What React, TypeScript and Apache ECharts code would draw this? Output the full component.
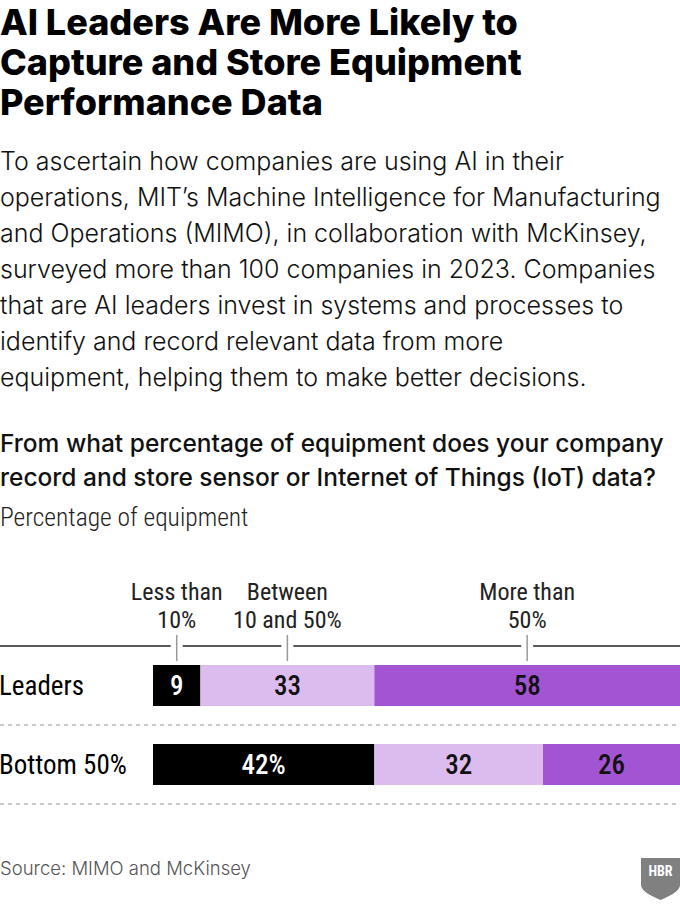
import React, { useEffect, useRef } from "react";
import * as echarts from "echarts";

const categories = ["Leaders", "Bottom 50%"];
const segmentNames = ["Less than\n10%", "Between\n10 and 50%", "More than\n50%"];
const lessThan10 = [9, 42];
const between10and50 = [33, 32];
const moreThan50 = [58, 26];
const seriesValues = [lessThan10, between10and50, moreThan50];
const valueSuffix = [["", "%"], ["", ""], ["", ""]];
const segmentColors = ["#000000", "#dcbbee", "#a354d3"];
const labelColors = ["#ffffff", "#111111", "#111111"];

const titleLines = [
  "AI Leaders Are More Likely to",
  "Capture and Store Equipment",
  "Performance Data",
];
const bodyLines = [
  "To ascertain how companies are using AI in their",
  "operations, MIT\u2019s Machine Intelligence for Manufacturing",
  "and Operations (MIMO), in collaboration with McKinsey,",
  "surveyed more than 100 companies in 2023. Companies",
  "that are AI leaders invest in systems and processes to",
  "identify and record relevant data from more",
  "equipment, helping them to make better decisions.",
];
const questionLines = [
  "From what percentage of equipment does your company",
  "record and store sensor or Internet of Things (IoT) data?",
];
const unitLabel = "Percentage of equipment";
const sourceText = "Source: MIMO and McKinsey";

const COND = "'Roboto Condensed', 'Liberation Sans Narrow', 'DejaVu Sans Condensed', 'Arial Narrow', sans-serif";
const SANS = "Inter, Roboto, 'Noto Sans', sans-serif";

echarts.graphic.registerShape(
  "hbrShield",
  echarts.graphic.extendPath("M0 0 H39 V27 Q39 34 19.5 42 Q0 34 0 27 Z", {})
);

export default function App() {
  const ref = useRef<HTMLDivElement>(null);
  useEffect(() => {
    if (!ref.current) return;
    const chart = echarts.init(ref.current, null, { renderer: "svg" });
    const W = 680;
    const staticGraphics: any[] = [
      {
        type: "text",
        x: 0,
        y: 2,
        style: {
          text: titleLines.join("\n"),
          font: `800 36px ${SANS}`,
          lineHeight: 40,
          fill: "#000",
          verticalAlign: "top",
        },
      },
      {
        type: "text",
        x: 0,
        y: 143,
        style: {
          text: bodyLines.join("\n"),
          font: `300 25px ${SANS}`,
          lineHeight: 36,
          fill: "#111",
          verticalAlign: "top",
        },
      },
      {
        type: "text",
        x: 0,
        y: 426,
        style: {
          text: questionLines.join("\n"),
          font: `500 24.5px ${SANS}`,
          lineHeight: 34,
          fill: "#111",
          verticalAlign: "top",
        },
      },
      {
        type: "text",
        x: 0,
        y: 503,
        style: {
          text: unitLabel,
          font: `300 25.5px ${COND}`,
          lineHeight: 28,
          fill: "#222",
          verticalAlign: "top",
        },
      },
      {
        type: "text",
        x: 0,
        y: 857,
        style: {
          text: sourceText,
          font: `300 18.5px ${SANS}`,
          lineHeight: 22,
          fill: "#555",
          verticalAlign: "top",
        },
      },
      {
        type: "hbrShield",
        x: 641,
        y: 858,
        style: { fill: "#808080" },
      },
      {
        type: "text",
        x: 660.5,
        y: 871,
        style: {
          text: "HBR",
          font: `700 14px ${COND}`,
          fill: "#fff",
          align: "center",
          verticalAlign: "middle",
        },
      },
    ];

    const option: any = {
      animation: false,
      backgroundColor: "#fff",
      grid: {
        left: 153,
        right: 0,
        top: 646,
        height: 158,
        containLabel: false,
        outerBoundsMode: "none",
      },
      xAxis: {
        type: "value",
        min: 0,
        max: 100,
        show: false,
      },
      yAxis: {
        type: "category",
        data: categories,
        inverse: true,
        axisLine: { show: false },
        axisTick: { show: false },
        splitLine: { show: false },
        axisLabel: {
          margin: 154,
          align: "left",
          fontFamily: COND,
          fontSize: 27,
          fontWeight: 400,
          color: "#000",
        },
      },
      series: seriesValues.map((vals, i) => ({
        type: "bar",
        name: segmentNames[i],
        stack: "total",
        barWidth: 41,
        data: vals,
        itemStyle: { color: segmentColors[i] },
        label: {
          show: true,
          position: "inside",
          color: labelColors[i],
          fontFamily: COND,
          fontSize: 27,
          fontWeight: 500,
          formatter: (p: any) => `${p.value}${valueSuffix[i][p.dataIndex]}`,
        },
      })),
      graphic: staticGraphics,
    };
    chart.setOption(option);

    // Decorations computed from the chart scales
    const yTop = chart.convertToPixel({ yAxisIndex: 0 }, categories[0]) as number;
    const yBot = chart.convertToPixel({ yAxisIndex: 0 }, categories[1]) as number;
    const band = yBot - yTop;
    const axisY = yTop - band / 2;
    const extra: any[] = [];
    let cum = 0;
    const ticks: number[] = [];
    seriesValues.forEach((vals, i) => {
      const mid = cum + vals[0] / 2;
      cum += vals[0];
      const px = chart.convertToPixel({ xAxisIndex: 0 }, mid) as number;
      ticks.push(px);
      extra.push({
        type: "text",
        x: px,
        y: axisY - 12,
        style: {
          text: segmentNames[i],
          font: `400 24px ${COND}`,
          lineHeight: 28,
          fill: "#222",
          align: "center",
          verticalAlign: "bottom",
        },
      });
      extra.push({
        type: "line",
        shape: { x1: px, y1: axisY - 11, x2: px, y2: axisY + 15 },
        style: { stroke: "#999", lineWidth: 1.5 },
      });
    });
    let start = 0;
    ticks.forEach((t) => {
      extra.push({
        type: "line",
        shape: { x1: start, y1: axisY, x2: t - 6, y2: axisY },
        style: { stroke: "#222", lineWidth: 1.3 },
      });
      start = t + 6;
    });
    extra.push({
      type: "line",
      shape: { x1: start, y1: axisY, x2: W, y2: axisY },
      style: { stroke: "#222", lineWidth: 1.3 },
    });
    [axisY + band, axisY + 2 * band].forEach((yy) => {
      extra.push({
        type: "line",
        shape: { x1: 0, y1: yy, x2: W, y2: yy },
        style: { stroke: "#999", lineWidth: 1.2, lineDash: [4, 4] },
      });
    });
    chart.setOption({ graphic: [...staticGraphics, ...extra] });

    return () => chart.dispose();
  }, []);
  return (
    <div
      ref={ref}
      style={{ position: "absolute", left: 0, top: 0, width: 680, height: 905, background: "#fff" }}
    />
  );
}
